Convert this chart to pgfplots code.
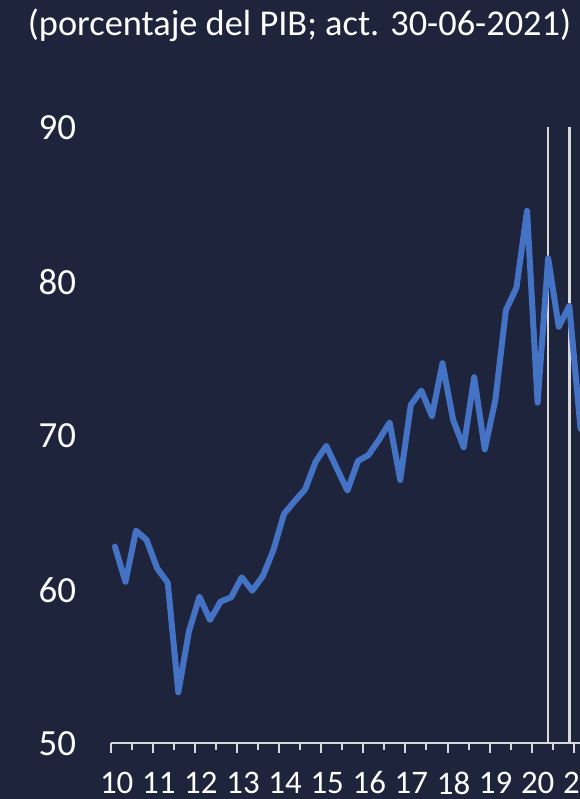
\documentclass[border=0pt]{standalone}
\usepackage{fontspec}
\setmainfont{Carlito}
\usepackage{pgfplots}
\usepackage{pgfplotstable}
\pgfplotsset{compat=1.18}

\definecolor{fondo}{HTML}{1F243D}
\definecolor{serie}{HTML}{4472C4}
\definecolor{eje}{HTML}{D9D9D9}

% Deuda, porcentaje del PIB (trimestral)
\pgfplotstableread{
x y
2010.100 62.75
2010.351 60.47
2010.602 63.79
2010.853 63.18
2011.104 61.34
2011.355 60.41
2011.606 53.29
2011.857 57.23
2012.108 59.50
2012.359 57.99
2012.610 59.18
2012.861 59.46
2013.112 60.76
2013.363 59.89
2013.614 60.84
2013.865 62.53
2014.116 64.87
2014.367 65.70
2014.618 66.47
2014.869 68.27
2015.120 69.29
2015.371 67.84
2015.622 66.39
2015.873 68.31
2016.124 68.70
2016.375 69.70
2016.626 70.81
2016.877 67.08
2017.128 71.95
2017.379 72.88
2017.630 71.23
2017.881 74.66
2018.132 71.00
2018.383 69.20
2018.634 73.75
2018.885 69.07
2019.136 72.27
2019.387 78.10
2019.638 79.57
2019.889 84.55
2020.140 72.10
2020.391 81.47
2020.642 77.03
2020.893 78.38
2021.160 70.40
}\deuda

\begin{document}
\begin{tikzpicture}[x=1bp,y=1bp]
\fill[fondo] (0,0) rectangle (580,799);
\node[text=white, font=\fontsize{36.5}{40}\selectfont] at (299.5,774)
  {(porcentaje del PIB; act. 30-06-2021)};
\begin{axis}[
  at={(110.7bp,56bp)}, anchor=south west,
  scale only axis, width=484.15bp, height=616bp,
  xmin=2010, xmax=2021.5, ymin=50, ymax=90,
  axis x line*=bottom, axis y line*=left,
  y axis line style={draw=none},
  x axis line style={draw=eje, line width=2bp},
  tick align=outside,
  xtick={2010,2011,2012,2013,2014,2015,2016,2017,2018,2019,2020,2021},
  xticklabels={10,11,12,13,14,15,16,17,18,19,20,21},
  minor x tick num=1,
  major tick length=10bp, minor tick length=7bp,
  xtick style={draw=eje, line width=2bp},
  ytick={50,60,70,80,90},
  yticklabels={50,60,70,80,90},
  ytick style={draw=none},
  xticklabel style={font=\fontsize{33}{38}\selectfont, text=white,
    anchor=center, inner sep=0pt, xshift=6bp, yshift=-30bp},
  yticklabel style={font=\fontsize{37}{42}\selectfont, text=white,
    anchor=east, inner sep=0pt, xshift=-24.5bp, yshift=-1bp},
]
\addplot[eje, line width=2.5bp] coordinates {(2020.391,50) (2020.391,90)};
\addplot[eje, line width=2.5bp] coordinates {(2020.893,50) (2020.893,90)};
\addplot[serie, line width=6bp, line join=round, line cap=round] table {\deuda};
\end{axis}
\pgfresetboundingbox
\path (0,0) rectangle (580,799);
\end{tikzpicture}
\end{document}
